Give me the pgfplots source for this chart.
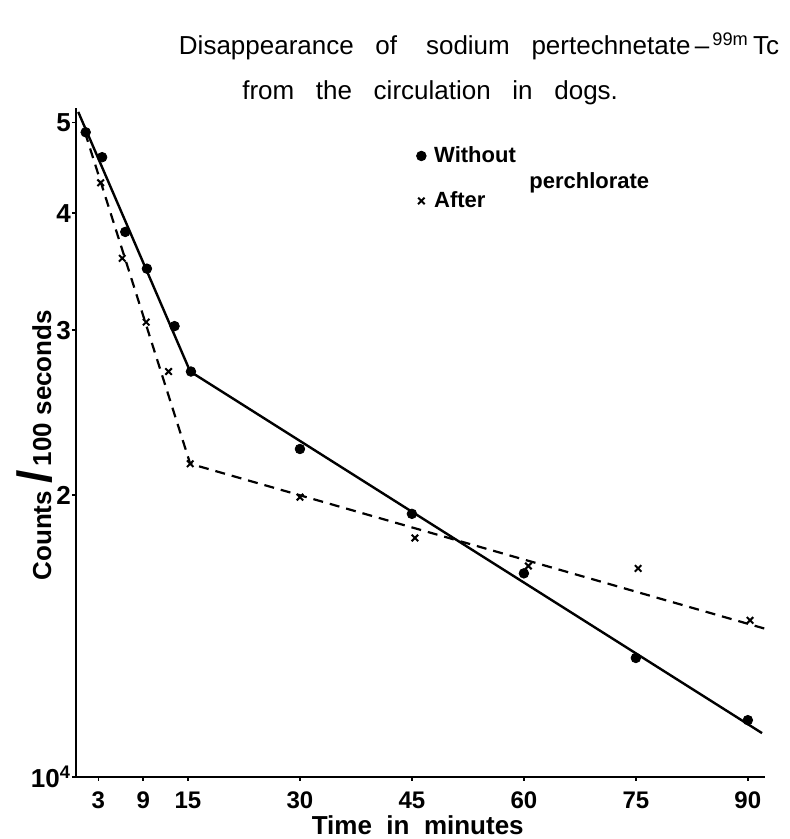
\documentclass[border=0pt]{standalone}
\usepackage{fontspec}
\setmainfont{Liberation Sans}
\usepackage{pgfplots}
\pgfplotsset{compat=1.18}

% measured points (counts in units of 10^4 per 100 s)
\pgfplotstableread{
t v
1.3 4.88
3.5 4.59
6.6 3.82
9.5 3.49
13.2 3.03
15.4 2.71
30 2.24
45 1.91
60 1.65
75 1.34
90 1.15
}\without
\pgfplotstableread{
t v
3.3 4.31
6.2 3.58
9.4 3.06
12.4 2.71
15.3 2.16
30 1.99
45.4 1.80
60.6 1.68
75.3 1.67
90.3 1.47
}\after

\begin{document}
\begin{tikzpicture}
\begin{axis}[
    scale only axis,
    width=344.5pt, height=334.5pt,
    ymode=log,
    xmin=0, xmax=92.3,
    ymin=1, ymax=5.18,
    axis lines*=left,
    axis line style={line width=1.3pt},
    xtick={3,9,15,30,45,60,75,90},
    xticklabels={3,9,15,30,45,60,75,90},
    ytick={1,2,3,4,5},
    yticklabels={10\textsuperscript{4},2,3,4,5},
    minor ytick={},
    log basis y=10,
    tick align=outside,
    major tick length=2pt,
    tick style={line width=0.8pt, black},
    x tick label style={font=\fontsize{12}{12}\selectfont\bfseries, yshift=-2pt},
    y tick label style={font=\fontsize{13}{13}\selectfont\bfseries, xshift=3pt},
    clip=false,
    legend style={draw=none, fill=none, at={(rel axis cs:0.485,0.955)}, anchor=north west,
        font=\fontsize{11}{11}\selectfont\bfseries, row sep=9pt,
        /tikz/every odd column/.append style={column sep=2pt}},
    legend cell align=left,
]
% fitted lines
\addplot[black, line width=1.2pt, forget plot] coordinates {(0.3,5.13) (15.3,2.71) (91.9,1.114)};
\addplot[black, line width=1.1pt, dash pattern=on 5pt off 3.5pt, forget plot] coordinates {(1.2,4.88) (15.3,2.16) (92.3,1.44)};
% data points
\addplot[only marks, mark=*, mark size=2.4pt, black] table[x=t, y=v] {\without};
\addlegendentry{Without}
\addplot[only marks, mark=x, mark size=2.3pt, black, line width=1pt] table[x=t, y=v] {\after};
\addlegendentry{After}

\node[font=\fontsize{11}{11}\selectfont\bfseries] at (rel axis cs:0.745,0.888) {perchlorate};
\node[font=\fontsize{13}{13}\selectfont, anchor=base] at (rel axis cs:0.585,1.08)
  {Disappearance\ \ \ of\ \ \ \ sodium\ \ \ pertechnetate\,--\textsuperscript{\,99m}\,Tc};
\node[font=\fontsize{13}{13}\selectfont, anchor=base] at (rel axis cs:0.514,1.012)
  {from\ \ \ the\ \ \ circulation\ \ \ in\ \ \ dogs.};
\node[font=\fontsize{13}{13}\selectfont\bfseries, rotate=90, anchor=base] at (rel axis cs:-0.036,0.496)
  {Counts {\fontsize{24}{24}\selectfont/}\,100 seconds};
\node[font=\fontsize{13}{13}\selectfont\bfseries] at (rel axis cs:0.496,-0.072) {Time\ \ in\ \ minutes};
\end{axis}
\pgfresetboundingbox
\path[use as bounding box] ([shift={(-38pt,-31pt)}]current axis.south west) rectangle ([shift={(12.5pt,54pt)}]current axis.north east);
\end{tikzpicture}
\end{document}
